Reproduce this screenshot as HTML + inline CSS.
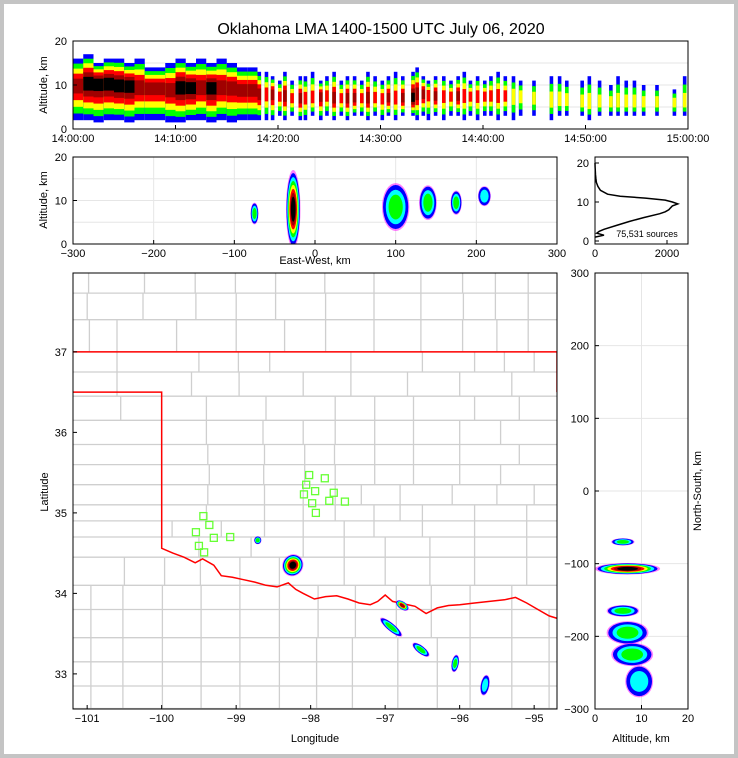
<!DOCTYPE html>
<html><head><meta charset="utf-8">
<style>
html,body{margin:0;padding:0;background:#fff}
body{width:738px;height:758px;overflow:hidden}
svg{display:block;font-family:"Liberation Sans","DejaVu Sans",sans-serif}
</style></head>
<body>
<svg id="chart" width="738" height="758" xmlns="http://www.w3.org/2000/svg">
<defs>
<clipPath id="cEw"><rect x="73" y="157" width="484" height="87"/></clipPath>
<clipPath id="cMap"><rect x="73" y="273" width="484" height="436"/></clipPath>
<clipPath id="cNs"><rect x="595" y="273" width="93" height="436"/></clipPath>
</defs>
<rect x="0" y="0" width="738" height="758" fill="#c4c4c4"/>
<rect x="4" y="4" width="730" height="750" fill="#fff"/>
<text x="381" y="34" font-size="16" text-anchor="middle">Oklahoma LMA 1400-1500 UTC July 06, 2020</text>
<g id="g"></g>
</svg>
<script>
// ---------- DATA ----------
const colT = [0,1,2,3,4,5,6,7,8,9,10,11,12,13,14,15,16,17,18,18.7,19.3,20,20.5,21.2,22,22.5,23.2,24,24.6,25.3,26,26.6,27.3,28,28.6,29.3,30,30.6,31.3,32,33,33.4,34,34.5,35.2,36,36.7,37.4,38,38.6,39.3,40,40.6,41.3,42,42.8,43.5,44.8,46.5,47.3,48,49.5,50.2,51.2,52.3,53,53.8,54.6,55.5,56.8,58.5,59.5];
const colDur = [1,1,1,1,1,1,1,1,1,1,1,1,1,1,1,1,1,1,0.35,0.35,0.35,0.35,0.35,0.35,0.35,0.35,0.35,0.35,0.35,0.35,0.35,0.35,0.35,0.35,0.35,0.35,0.35,0.35,0.35,0.35,0.35,0.35,0.35,0.35,0.35,0.35,0.35,0.35,0.35,0.35,0.35,0.35,0.35,0.35,0.35,0.35,0.35,0.35,0.35,0.35,0.35,0.35,0.35,0.35,0.35,0.35,0.35,0.35,0.35,0.35,0.35,0.35];
const colLo = [2,2,1.5,2,2,1.5,2,2,2,1.5,1.5,2,2,1.5,2,1.5,2,2,2,2,2,3,2,3,2,2,3,2,3,2,3,2,3,3,2,3,2,3,2,3,3,2,3,2,3,2,3,3,2,3,2,3,3,2,3,2,3,3,2,3,3,3,2,3,3,3,3,3,3,3,3,3];
const colHi = [16,17,15,16,16,15,16,14,14,15,16,15,16,15,16,15,14,14,13,13,12,11,13,11,12,12,13,11,12,13,11,12,12,11,13,12,11,12,13,12,13,14,12,11,12,12,11,12,13,11,12,11,12,13,12,12,11,11,12,12,11,11,12,11,10,12,11,11,10,10,9,12];
const colMid = [10,10.5,10.5,10.5,10,10,9.5,9.5,9.5,9,9.5,9.5,9.5,9.5,9.5,9.5,9,9,8,8,8,7.5,7.5,7,7,7,7,7.5,7.5,7,7,7,7,7,7,7,7,7,7,7,7,8,8,8,7.5,7.5,7.5,7.5,7.5,7.5,7.5,7.5,7.5,7.5,7.5,7.5,7.5,7,6.5,6.5,6.5,6,6,6,6,6,6,6,6,6,6,6];
const colLvl = [3,4,4,4,4,4,3,3,3,3,4,4,3,4,3,3,3,3,3,2,3,2,3,2,3,2,2,3,2,3,2,3,3,2,3,2,2,3,2,3,4,3,3,2,3,2,2,3,2,2,2,2,2,2,2,1,1,1,1,1,1,1,1,1,1,1,1,1,1,1,1,1];
const ewX = [-75,-27,100,140,175,210];
const ewAlt = [7,8,8.5,9.5,9.5,11];
const ewRx = [5,9,17,11,7,8];
const ewRy = [2.5,9,5.5,4,2.8,2.3];
const ewLvl = [2,4,2,2,2,1];
const histAlt = [1,1.5,2,2.5,3,4,5,6,7,7.5,8,8.5,9,9.5,10,10.5,11,11.5,12,13,14,15,16,17,18,19,20];
const histCnt = [0,250,50,120,250,600,950,1350,1800,1950,2050,2100,2150,2300,2150,1950,1400,700,350,150,80,40,25,15,8,3,0];
const stLon = [-98.02,-97.81,-98.06,-97.94,-98.09,-97.69,-97.54,-97.75,-97.98,-97.93,-99.44,-99.36,-99.54,-99.30,-99.08,-99.50,-99.43];
const stLat = [35.47,35.43,35.35,35.27,35.23,35.25,35.14,35.15,35.12,35.00,34.96,34.85,34.76,34.69,34.70,34.59,34.51];
const mLon = [-98.24,-98.71,-96.77,-96.92,-96.52,-96.06,-95.66];
const mLat = [34.35,34.66,33.85,33.58,33.3,33.13,32.86];
const mRx = [0.14,0.05,0.1,0.19,0.14,0.05,0.06];
const mRy = [0.14,0.05,0.05,0.05,0.05,0.11,0.13];
const mRot = [30,0,35,40,38,10,10];
const mLvl = [4,2,3,2,2,2,1];
const nsAlt = [7,6,6,7,8,9.5];
const nsY = [-107,-70,-165,-195,-225,-262];
const nsRx = [7,2.5,3.5,4.5,4.5,3];
const nsRy = [8,5,8,16,16,22];
const nsLvl = [4,2,2,2,2,1];
const timeTicks = ["14:00:00","14:10:00","14:20:00","14:30:00","14:40:00","14:50:00","15:00:00"];
const ewTicks = [-300,-200,-100,0,100,200,300];
const lonTicks = [-101,-100,-99,-98,-97,-96,-95];
const latTicks = [33,34,35,36,37];
const nsTicks = [-300,-200,-100,0,100,200,300];
const rrLon = [-100,-99.85,-99.7,-99.55,-99.45,-99.3,-99.2,-99.05,-98.9,-98.75,-98.6,-98.45,-98.3,-98.2,-98.1,-97.95,-97.8,-97.65,-97.5,-97.35,-97.2,-97.1,-97.0,-96.9,-96.75,-96.6,-96.45,-96.3,-96.15,-96.0,-95.8,-95.6,-95.4,-95.25,-95.1,-94.95,-94.8,-94.62];
const rrLat = [34.56,34.5,34.45,34.38,34.43,34.35,34.22,34.2,34.17,34.14,34.1,34.08,34.13,34.05,34.0,33.93,33.96,33.97,33.93,33.88,33.86,33.9,33.98,33.9,33.87,33.84,33.75,33.82,33.85,33.86,33.88,33.9,33.92,33.95,33.88,33.8,33.72,33.67];

// ---------- helpers ----------
const NS='http://www.w3.org/2000/svg';
const G=document.getElementById('g');
function mk(tag,at,parent){const e=document.createElementNS(NS,tag);for(const k in at)e.setAttribute(k,at[k]);(parent||G).appendChild(e);return e;}
function txt(x,y,s,size,anchor,parent){const e=mk('text',{x:x,y:y,'font-size':size,'text-anchor':anchor||'middle'},parent);e.textContent=s;return e;}
const blobCols=['#ff00ff','#0000ff','#00ffff','#00ff00','#ffff00','#ff0000','#a00000','#000000'];
function blob(parent,cx,cy,rx,ry,rot,lvl){
  const n=Math.min(blobCols.length,2+lvl+(lvl>=3?lvl-1:0));
  for(let k=0;k<n;k++){
    const s=k===0?1:0.92-(k-1)*0.8/n;
    const e=mk('ellipse',{cx:cx,cy:cy,rx:Math.max(0.8,rx*s),ry:Math.max(0.8,ry*s),fill:blobCols[k],'fill-opacity':k===0?0.5:1,transform:'rotate('+rot+' '+cx+' '+cy+')'},parent);
    
    
  }
}
function frame(x,y,w,h,name){const e=mk('rect',{x:x,y:y,width:w,height:h,fill:'none',stroke:'#000','stroke-width':1});}
function grid(x1,y1,x2,y2,p){mk('line',{x1:x1,y1:y1,x2:x2,y2:y2,stroke:'#e6e6e6','stroke-width':1},p);}
function tick(x1,y1,x2,y2){mk('line',{x1:x1,y1:y1,x2:x2,y2:y2,stroke:'#000','stroke-width':1});}

// ---------- top panel ----------
const tx=m=>73+m*615/60, ty=a=>129-a*88/20;
const gTop=mk('g',{});


[5,10,15].forEach(a=>grid(73,ty(a),688,ty(a),gTop));
const topCols=['#0000ff','#00ff00','#ffff00','#ff0000','#a00000','#000000'];
colT.forEach((t,i)=>{
  const lo=colLo[i],hi=colHi[i],c=colMid[i],L=colLvl[i];
  const n=Math.min(topCols.length,L+2);
  for(let k=0;k<n;k++){
    const f=k/n;
    const a0=lo+(c-lo)*f*0.95, a1=hi-(hi-c)*f*0.95;
    const r=mk('rect',{x:tx(t),y:ty(a1),width:Math.max(1.5,tx(t+colDur[i])-tx(t)),height:ty(a0)-ty(a1),fill:topCols[k]},gTop);
    
    
  }
});
frame(73,41,615,88,'time-height-frame');
[0,10,20].forEach(a=>{tick(73,ty(a),77,ty(a));txt(67,ty(a)+4,String(a),11,'end');});
timeTicks.forEach((s,i)=>{const x=tx(i*10);tick(x,129,x,125);txt(x,142,s,11);});
txt(47,85,'Altitude, km',11).setAttribute('transform','rotate(-90 47 85)');

// ---------- EW panel ----------
const mx=k=>73+(k+300)*484/600, my=a=>244-a*4.35;
const gEw=mk('g',{'clip-path':'url(#cEw)'});


ewTicks.forEach(k=>grid(mx(k),157,mx(k),244,gEw));
[5,10,15].forEach(a=>grid(73,my(a),557,my(a),gEw));
ewX.forEach((x,i)=>blob(gEw,mx(x),my(ewAlt[i]),ewRx[i]*484/600,ewRy[i]*4.35,0,ewLvl[i]));
frame(73,157,484,87,'east-west-frame');
[0,10,20].forEach(a=>{tick(73,my(a),77,my(a));txt(67,my(a)+4,String(a),11,'end');});
ewTicks.forEach(k=>{tick(mx(k),244,mx(k),240);txt(mx(k),257,String(k).replace('-','−'),11);});
txt(315,264,'East-West, km',11);
txt(47,200,'Altitude, km',11).setAttribute('transform','rotate(-90 47 200)');

// ---------- histogram ----------
const hx=c=>595+c*72/2000, hy=a=>241-a*3.9;
let d='';histAlt.forEach((a,i)=>{d+=(i?'L':'M')+hx(histCnt[i]).toFixed(1)+' '+hy(a).toFixed(1);});
const hp=mk('path',{d:d,fill:'none',stroke:'#000','stroke-width':1.5});


frame(595,157,93,87,'histogram-frame');
[0,10,20].forEach(a=>{tick(595,hy(a),599,hy(a));txt(589,hy(a)+4,String(a),11,'end');});
[0,2000].forEach(c=>{tick(hx(c),244,hx(c),240);txt(hx(c),257,String(c),11);});
txt(647,237,'75,531 sources',9);

// ---------- map ----------
const lx=lo=>73+(lo+101.19)*74.5, ly=la=>273+(37.98-la)*80.5;
const gMap=mk('g',{'clip-path':'url(#cMap)'});


const rows=[[37.98,37.73],[37.73,37.4],[37.4,37.0],[37.0,36.75],[36.75,36.45],[36.45,36.15],[36.15,35.85],[35.85,35.6],[35.6,35.35],[35.35,35.1],[35.1,34.9],[34.9,34.7],[34.7,34.45],[34.45,34.1],[34.1,33.8],[33.8,33.45],[33.45,33.15],[33.15,32.85],[32.85,32.57]];
const rowLons=[[-100.98,-100.23,-99.55,-99.01,-98.47,-97.81,-97.15,-96.52,-95.96,-95.52,-95.08],[-101.0,-100.25,-99.54,-99.0,-98.47,-97.8,-97.15,-96.52,-95.95,-95.52,-95.08],[-100.97,-100.6,-99.8,-99.0,-98.35,-97.8,-97.15,-96.52,-95.96,-95.5,-95.08],[-100.6,-99.5,-98.97,-98.55,-97.46,-96.5,-95.8,-95.4,-95.0],[-100.6,-99.6,-98.96,-98.1,-97.46,-96.7,-96.0,-95.3],[-100.55,-99.4,-98.6,-97.67,-97.14,-96.62,-95.8,-95.2],[-100.0,-99.4,-98.64,-98.1,-97.67,-97.14,-96.62,-96.0,-95.45],[-100.0,-99.38,-98.62,-98.08,-97.68,-97.14,-96.62,-96.0,-95.2],[-100.0,-99.36,-98.63,-98.08,-97.67,-97.14,-96.62,-96.0,-95.45],[-100.0,-99.38,-98.62,-98.1,-97.67,-97.32,-96.8,-96.1,-95.5,-95.0],[-100.0,-99.4,-98.62,-98.1,-97.67,-97.15,-96.8,-96.5,-95.8,-95.1],[-99.86,-99.2,-98.62,-98.1,-97.55,-97.15,-96.5,-95.8,-95.1],[-99.5,-98.8,-98.1,-97.55,-97.0,-96.4,-95.8,-95.1],[-100.5,-99.96,-99.48,-98.95,-98.42,-97.55,-97.0,-96.4,-95.8,-95.1],[-100.95,-100.52,-99.99,-99.47,-98.95,-98.42,-97.9,-97.4,-96.85,-96.38,-95.86,-95.3],[-100.95,-100.52,-99.99,-99.47,-98.95,-98.42,-97.9,-97.4,-96.85,-96.38,-95.86,-95.3,-94.8],[-100.95,-100.52,-99.99,-99.47,-98.95,-98.42,-97.92,-97.44,-96.83,-96.3,-95.86,-95.3,-94.8],[-100.95,-100.52,-99.99,-99.47,-98.95,-98.42,-97.92,-97.44,-96.83,-96.3,-95.86,-95.3,-94.8],[-100.95,-100.52,-99.99,-99.47,-98.95,-98.42,-97.92,-97.44,-96.83,-96.3,-95.86,-95.3,-94.8]];
let cd='';
rows.forEach((r,i)=>{
  cd+='M73 '+ly(r[1]).toFixed(1)+'L557 '+ly(r[1]).toFixed(1);
  rowLons[i].forEach(lo=>{cd+='M'+lx(lo).toFixed(1)+' '+ly(r[0]).toFixed(1)+'L'+lx(lo).toFixed(1)+' '+ly(r[1]).toFixed(1);});
});
const cp=mk('path',{d:cd,fill:'none',stroke:'#cfcfcf','stroke-width':1.3},gMap);


let sd='M73 '+ly(37)+'L557 '+ly(37)+'M73 '+ly(36.5)+'L'+lx(-100)+' '+ly(36.5);
rrLon.forEach((lo,i)=>{sd+='L'+lx(lo).toFixed(1)+' '+ly(rrLat[i]).toFixed(1);});
const sp=mk('path',{d:sd,fill:'none',stroke:'#ff0000','stroke-width':1.5},gMap);


mk('line',{x1:557,y1:ly(37),x2:557,y2:ly(36.5),stroke:'#ff0000','stroke-width':1.5},gMap);
mLon.forEach((lo,i)=>blob(gMap,lx(lo),ly(mLat[i]),mRx[i]*74.5,mRy[i]*80.5,mRot[i],mLvl[i]));
stLon.forEach((lo,i)=>{
  const r=mk('rect',{x:lx(lo)-3.5,y:ly(stLat[i])-3.5,width:7,height:7,fill:'none',stroke:'#66ff33','stroke-width':1.3},gMap);
  
  
});
frame(73,273,484,436,'map-frame');
latTicks.forEach(la=>{tick(73,ly(la),77,ly(la));txt(67,ly(la)+4,String(la),11,'end');});
lonTicks.forEach(lo=>{tick(lx(lo),709,lx(lo),705);txt(lx(lo),722,String(lo).replace('-','−'),11);});
txt(315,742,'Longitude',11);
txt(48,492,'Latitude',11).setAttribute('transform','rotate(-90 48 492)');

// ---------- NS panel ----------
const nx=a=>595+a*93/20, ny=k=>491-k*0.7267;
const gNs=mk('g',{'clip-path':'url(#cNs)'});


nsTicks.forEach(k=>grid(595,ny(k),688,ny(k),gNs));
[10].forEach(a=>grid(nx(a),273,nx(a),709,gNs));
nsAlt.forEach((a,i)=>blob(gNs,nx(a),ny(nsY[i]),nsRx[i]*93/20,nsRy[i]*0.7267,0,nsLvl[i]));
frame(595,273,93,436,'north-south-frame');
nsTicks.forEach(k=>{tick(595,ny(k),599,ny(k));txt(589,ny(k)+4,String(k).replace('-','−'),11,'end');});
[0,10,20].forEach(a=>{tick(nx(a),709,nx(a),705);txt(nx(a),722,String(a),11);});
txt(641,742,'Altitude, km',11);
txt(701,491,'North-South, km',11).setAttribute('transform','rotate(-90 701 491)');
</script>
</body></html>
